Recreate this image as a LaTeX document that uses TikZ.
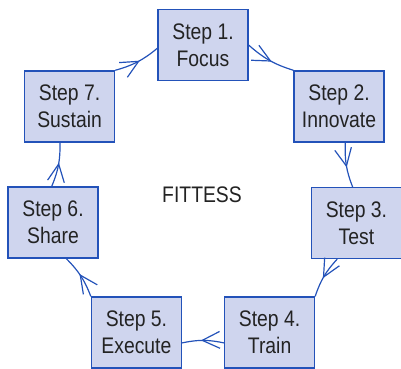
\documentclass[tikz,border=0pt]{standalone}
\usepackage{fontspec}
\setmainfont[FakeStretch=0.86]{Liberation Sans}
\usetikzlibrary{arrows.meta,decorations.markings}

\definecolor{boxfill}{RGB}{207,213,238}
\definecolor{boxline}{RGB}{35,82,185}
\definecolor{txt}{RGB}{35,35,35}

\tikzset{
  stepbox/.style={shape=rectangle,draw=boxline,fill=boxfill,line width=0.85pt,
    minimum width=2.25cm,minimum height=1.775cm,inner sep=0pt,align=center,
    text=txt,font=\fontsize{16}{19.5}\selectfont},
  flow/.style={draw=boxline,line width=0.85pt,postaction={decorate},
    decoration={markings,mark=at position 0.55 with {\arrow{Straight Barb[length=12.5pt,width=12pt]}}}}
}

\begin{document}
\begin{tikzpicture}
\useasboundingbox (0,0) rectangle (10.025,-9.2);
\node[stepbox] (S1) at (5.075,-1.125) {Step 1.\\Focus};
\node[stepbox] (S2) at (8.475,-2.66) {Step 2.\\Innovate};
\node[stepbox] (S3) at (8.91,-5.575) {Step 3.\\Test};
\node[stepbox] (S4) at (6.74,-8.31) {Step 4.\\Train};
\node[stepbox] (S5) at (3.41,-8.31) {Step 5.\\Execute};
\node[stepbox] (S6) at (1.325,-5.56) {Step 6.\\Share};
\node[stepbox] (S7) at (1.74,-2.66) {Step 7.\\Sustain};
\node[text=txt,font=\fontsize{16}{19.5}\selectfont] (F) at (5.05,-4.875) {FITTESS};
\draw [flow] (S1.east) to[bend right=12] (S2.north west);
\draw [flow] (S2.-80) to[bend right=12] (S3.96);
\draw [flow] (S3.-118) to[bend right=12] (S4.north east);
\draw [flow] (S4.193) to[bend right=12] (S5.-13);
\draw [flow] (S5.north west) to[bend right=12] (S6.-70);
\draw [flow] (S6.92) to[bend right=12] (S7.-105);
\draw [flow] (S7.north east) to[bend right=12] (S1.184);
\end{tikzpicture}
\end{document}
